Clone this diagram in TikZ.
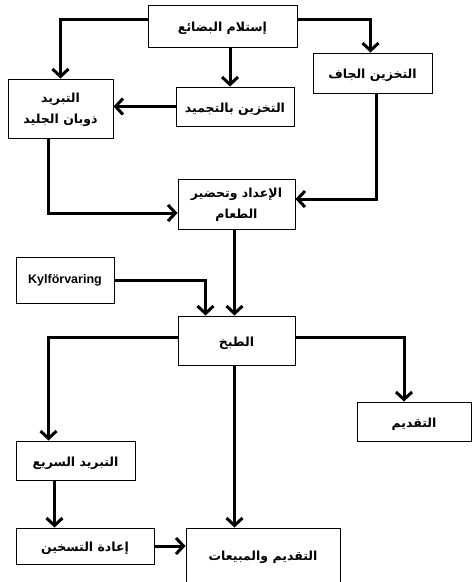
\documentclass[tikz,border=0pt]{standalone}
\usepackage{fontspec}
\setmainfont{Liberation Sans}
\newfontfamily\arabicfont[Script=Arabic]{DejaVu Sans}
\TeXXeTstate=1
\usetikzlibrary{arrows.meta}
\newcommand{\ar}[1]{\beginR #1\endR}
\begin{document}
\begin{tikzpicture}[x=1pt,y=-1pt,
  box/.style={draw=black,line width=0.9pt,fill=white,inner sep=1pt,
    font=\arabicfont\bfseries\fontsize{12.5}{21}\selectfont},
  one/.style={text height=11pt,text depth=0pt},
  arr/.style={line width=3pt,-{Straight Barb[length=7.5pt,width=16pt]}}]
\useasboundingbox (0,0) rectangle (473,582);
\node[box,one,minimum width=149pt,minimum height=42pt] (recv) at (222.5,26) {\ar{إستلام البضائع}};
\node[box,one,minimum width=119pt,minimum height=40pt] (dry) at (372.5,73) {\ar{التخزين الجاف}};
\node[box,minimum width=105pt,minimum height=59pt] (thaw) at (60.5,108.5) {\raisebox{-1.5pt}{\begin{tabular}{@{}c@{}}\ar{التبريد}\\\ar{ذوبان الجليد}\end{tabular}}};
\node[box,one,minimum width=118pt,minimum height=39pt] (freeze) at (235,106.5) {\ar{التخزين بالتجميد}};
\node[box,minimum width=117pt,minimum height=50pt] (prep) at (236.5,204) {\raisebox{-2pt}{\begin{tabular}{@{}c@{}}\ar{الإعداد وتحضير}\\\ar{الطعام}\end{tabular}}};
\node[box,minimum width=98pt,minimum height=46pt,font=\bfseries\fontsize{12.5}{14}\selectfont] (kyl) at (65,280) {Kylförvaring};
\node[box,one,minimum width=117pt,minimum height=49pt] (cook) at (236.5,340.5) {\ar{الطبخ}};
\node[box,one,minimum width=114pt,minimum height=39pt] (serve) at (414,421.5) {\ar{التقديم}};
\node[box,one,minimum width=119pt,minimum height=39pt] (rapid) at (75.5,460.5) {\ar{التبريد السريع}};
\node[box,one,minimum width=138pt,minimum height=36pt] (reheat) at (85,546) {\ar{إعادة التسخين}};
\node[box,one,minimum width=154pt,minimum height=54pt] (sales) at (263,555) {\ar{التقديم والمبيعات}};

\draw[arr] ([yshift=7pt]recv.west) -| (thaw.north);
\draw[arr] ([yshift=7pt]recv.east) -| ([xshift=-2pt]dry.north);
\draw[arr] ([xshift=-5pt]freeze.north |- recv.south) -- ([xshift=-5pt]freeze.north);
\draw[arr] (freeze.west) -- (freeze.west -| thaw.east);
\draw[arr] ([xshift=-12pt]thaw.south) |- ([yshift=-9pt]prep.west);
\draw[arr] ([xshift=4pt]dry.south) |- ([yshift=5pt]prep.east);
\draw[arr] ([xshift=-2pt]prep.south) -- ([xshift=-2pt]cook.north);
\draw[arr] (kyl.east) -| ([xshift=-31pt]cook.north);
\draw[arr] ([yshift=3pt]cook.west) -| ([xshift=-27pt]rapid.north);
\draw[arr] ([yshift=3pt]cook.east) -| ([xshift=-10pt]serve.north);
\draw[arr] ([xshift=-2pt]cook.south) -- ([xshift=-2pt]cook.south |- sales.north);
\draw[arr] ([xshift=-21pt]rapid.south) -- ([xshift=-21pt]rapid.south |- reheat.north);
\draw[arr] (reheat.east) -- (reheat.east -| sales.west);
\end{tikzpicture}
\end{document}
